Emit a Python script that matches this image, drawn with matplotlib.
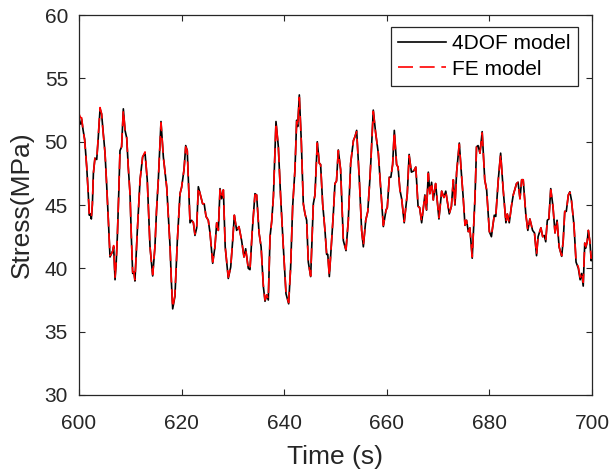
import matplotlib
matplotlib.use("Agg")
import matplotlib.pyplot as plt

# ===============================
# DATA
# ===============================

time = [
    600.0, 600.3, 600.5, 600.8, 601.1, 601.5, 601.8, 602.0, 602.2, 602.4,
    602.6, 602.8, 603.1, 603.45, 603.7, 604.1, 604.4, 604.7, 605.07, 605.4,
    605.72, 606.04, 606.37, 606.6, 606.75, 607.02, 607.25, 607.47, 607.75, 607.99,
    608.3, 608.64, 608.97, 609.3, 609.6, 609.94, 610.2, 610.46, 610.7, 610.9,
    611.37, 611.9, 612.4, 612.87, 613.3, 613.84, 614.36, 614.8, 615.1, 615.46,
    615.98, 616.44, 617.1, 617.75, 618.0, 618.26, 618.7, 619.17, 619.69, 620.0,
    620.47, 620.8, 621.1, 621.64, 621.96, 622.3, 622.6, 622.94, 623.26, 623.6,
    624.1, 624.4, 624.76, 625.2, 625.54, 626.06, 626.5, 626.84, 627.16, 627.49,
    627.8, 628.14, 628.5, 629.1, 629.57, 629.96, 630.28, 630.73, 631.18, 631.7,
    632.16, 632.49, 633.0, 633.33, 633.78, 634.3, 634.63, 635.1, 635.5, 635.93,
    636.26, 636.6, 636.9, 637.24, 637.56, 637.9, 638.4, 638.86, 639.3, 639.83,
    640.35, 640.87, 641.26, 641.65, 642.1, 642.43, 642.63, 642.95, 643.34, 643.73,
    644.06, 644.38, 644.7, 645.16, 645.68, 646.0, 646.45, 646.85, 647.1, 647.5,
    647.95, 648.28, 648.5, 648.8, 649.25, 649.58, 649.9, 650.2, 650.55, 651.0,
    651.53, 652.05, 652.5, 652.96, 653.5, 653.8, 654.13, 654.65, 655.1, 655.43,
    655.9, 656.3, 656.73, 656.9, 657.37, 657.83, 658.35, 658.8, 659.33, 659.85,
    660.1, 660.5, 660.8, 661.14, 661.47, 661.92, 662.2, 662.56, 662.9, 663.4,
    664.0, 664.36, 664.8, 665.27, 665.66, 666.1, 666.4, 666.8, 667.43, 667.76,
    668.1, 668.4, 668.74, 669.07, 669.52, 670.17, 670.7, 671.14, 671.5, 672.18,
    672.6, 672.97, 673.3, 673.62, 674.14, 674.6, 674.9, 675.25, 675.55, 675.9,
    676.2, 676.66, 677.2, 677.5, 677.8, 678.17, 678.6, 679.1, 679.47, 680.0,
    680.4, 680.96, 681.25, 681.74, 682.2, 682.7, 683.23, 683.5, 683.88, 684.3,
    684.66, 685.3, 685.6, 685.97, 686.3, 686.6, 687.1, 687.5, 687.9, 688.43,
    688.8, 689.2, 689.5, 690.05, 690.4, 690.7, 690.99, 691.3, 691.6, 691.97,
    692.4, 692.8, 693.2, 693.6, 694.1, 694.4, 694.7, 695.0, 695.4, 695.7,
    696.0, 696.5, 696.9, 697.35, 697.7, 698.0, 698.3, 698.6, 698.8, 699.07,
    699.3, 699.6, 699.86, 700.0,
]

stress_4dof = [
    51.6, 51.4, 51.8, 50.9, 50.2, 48.0, 45.9, 44.2, 44.3, 43.9,
    45.0, 47.5, 48.7, 48.6, 50.0, 52.6, 52.2, 50.8, 49.1, 46.5,
    43.8, 40.9, 41.2, 41.4, 41.7, 39.1, 40.5, 42.5, 46.0, 49.3,
    49.6, 52.6, 50.9, 50.3, 48.0, 45.9, 42.5, 39.6, 39.7, 39.0,
    43.0, 47.0, 48.8, 49.1, 47.0, 41.7, 39.4, 41.7, 44.5, 47.0,
    51.6, 48.8, 46.4, 41.7, 39.0, 36.8, 37.8, 42.2, 45.9, 46.4,
    47.8, 49.7, 49.3, 43.6, 43.8, 43.6, 42.6, 43.2, 46.45, 45.9,
    45.1, 45.1, 44.1, 43.8, 42.8, 40.4, 41.7, 43.6, 43.0, 46.3,
    45.5, 46.2, 41.7, 39.2, 40.1, 42.2, 44.2, 43.0, 43.3, 42.2,
    40.9, 41.55, 40.0, 39.9, 43.0, 45.9, 45.8, 42.8, 41.7, 38.6,
    37.4, 37.9, 37.5, 42.5, 43.7, 45.7, 51.6, 49.6, 45.7, 41.7,
    38.0, 37.2, 40.1, 44.9, 47.8, 51.7, 51.2, 53.7, 50.0, 45.1,
    44.3, 43.8, 40.5, 39.35, 45.1, 45.8, 50.0, 48.3, 48.2, 45.1,
    43.0, 41.1, 41.1, 39.35, 42.2, 44.3, 46.7, 46.9, 49.35, 47.8,
    42.2, 41.4, 43.8, 48.3, 50.1, 50.4, 50.9, 47.0, 43.0, 41.7,
    43.8, 44.5, 47.2, 48.5, 52.5, 50.7, 49.1, 46.4, 43.3, 44.6,
    44.8, 47.2, 47.2, 48.2, 50.9, 48.2, 48.0, 46.2, 45.5, 43.6,
    45.9, 49.0, 47.6, 47.7, 48.0, 44.9, 44.8, 43.6, 45.8, 44.6,
    47.6, 45.9, 46.8, 45.4, 46.7, 43.9, 46.1, 45.6, 46.1, 44.3,
    44.9, 47.0, 45.0, 47.6, 49.9, 47.2, 45.6, 43.4, 43.8, 42.9,
    43.2, 40.8, 45.6, 49.6, 49.7, 49.1, 50.8, 47.0, 46.2, 42.9,
    42.5, 44.2, 44.1, 47.0, 49.1, 46.2, 43.6, 44.3, 43.6, 44.9,
    45.8, 46.7, 46.8, 45.5, 47.0, 47.0, 44.3, 43.0, 43.9, 43.0,
    42.8, 41.0, 42.5, 43.2, 42.5, 42.6, 42.1, 43.8, 43.9, 46.3,
    44.9, 42.8, 43.8, 41.7, 40.95, 42.2, 44.5, 44.5, 45.8, 46.05,
    45.4, 43.4, 40.5, 40.0, 39.1, 39.6, 38.6, 42.0, 41.6, 42.1,
    43.0, 42.1, 40.6, 40.8,
]

stress_fe = [
    52.2, 51.9, 51.9, 50.9, 50.1, 48.0, 45.9, 44.3, 44.3, 44.0,
    45.1, 47.5, 48.7, 48.6, 50.1, 52.7, 52.2, 50.7, 49.1, 46.5,
    43.8, 41.0, 41.2, 41.4, 41.8, 39.3, 40.5, 42.5, 46.0, 49.4,
    49.6, 52.5, 50.9, 50.3, 48.0, 45.9, 42.5, 39.7, 39.7, 39.1,
    43.0, 47.0, 48.8, 49.2, 47.0, 41.7, 39.5, 41.7, 44.5, 47.0,
    51.5, 48.8, 46.4, 41.7, 39.1, 36.9, 37.9, 42.2, 45.9, 46.4,
    47.8, 49.6, 49.3, 43.6, 43.8, 43.6, 42.7, 43.2, 46.4, 45.9,
    45.1, 45.1, 44.1, 43.8, 42.8, 40.5, 41.7, 43.6, 43.0, 46.2,
    45.5, 46.2, 41.7, 39.3, 40.1, 42.2, 44.2, 43.0, 43.3, 42.2,
    40.9, 41.5, 40.0, 39.9, 43.0, 45.8, 45.8, 42.8, 41.7, 38.7,
    37.5, 37.9, 37.6, 42.5, 43.7, 45.7, 51.5, 49.6, 45.7, 41.7,
    38.1, 37.3, 40.1, 44.9, 47.8, 51.6, 51.2, 53.5, 50.0, 45.1,
    44.3, 43.8, 40.5, 39.4, 45.1, 45.8, 49.9, 48.3, 48.2, 45.1,
    43.0, 41.1, 41.1, 39.4, 42.2, 44.3, 46.7, 46.9, 49.3, 47.8,
    42.2, 41.5, 43.8, 48.3, 50.1, 50.4, 50.8, 47.0, 43.0, 41.8,
    43.8, 44.5, 47.2, 48.5, 52.4, 50.7, 49.1, 46.4, 43.4, 44.6,
    44.8, 47.2, 47.2, 48.2, 50.8, 48.2, 48.0, 46.2, 45.5, 43.7,
    45.9, 48.9, 47.6, 47.7, 48.0, 44.9, 44.8, 43.7, 45.8, 44.6,
    47.5, 45.9, 46.8, 45.4, 46.7, 44.0, 46.1, 45.6, 46.1, 44.3,
    44.9, 47.0, 45.0, 47.6, 49.8, 47.2, 45.6, 43.4, 43.8, 42.9,
    43.2, 40.9, 45.6, 49.6, 49.7, 49.1, 50.7, 47.0, 46.2, 42.9,
    42.6, 44.2, 44.1, 47.0, 49.0, 46.2, 43.6, 44.3, 43.6, 44.9,
    45.8, 46.7, 46.8, 45.5, 47.0, 47.0, 44.3, 43.0, 43.9, 43.0,
    42.8, 41.1, 42.5, 43.2, 42.5, 42.6, 42.2, 43.8, 43.9, 46.2,
    44.9, 42.8, 43.8, 41.7, 41.0, 42.2, 44.5, 44.5, 45.8, 46.0,
    45.4, 43.4, 40.6, 40.1, 39.3, 39.7, 38.9, 42.0, 41.7, 42.1,
    43.0, 42.1, 40.8, 41.0,
]

labels = ["4DOF model", "FE model"]
xticks = [600, 620, 640, 660, 680, 700]
yticks = [30, 35, 40, 45, 50, 55, 60]

# ===============================
# PLOT
# ===============================

plt.rcParams["font.family"] = ["Liberation Sans", "DejaVu Sans"]
grey = "#262626"

fig = plt.figure(figsize=(6.15, 4.76), dpi=100)
ax = fig.add_axes([0.1285, 0.1702, 0.834, 0.798])

ax.plot(time, stress_4dof, color="black", lw=1.2, label=labels[0])
fe_line, = ax.plot(time, stress_fe, color="red", lw=1.2, label=labels[1])
fe_line.set_dashes([9, 4])

ax.set_xlim(600, 700)
ax.set_ylim(30, 60)
ax.set_xticks(xticks)
ax.set_yticks(yticks)

ax.tick_params(direction="in", length=4, width=0.8, colors=grey,
               labelsize=15, top=True, right=True)
ax.tick_params(axis="x", pad=14)
ax.tick_params(axis="y", pad=8)
for sp in ax.spines.values():
    sp.set_color(grey)
    sp.set_linewidth(0.9)

ax.set_xlabel("Time (s)", fontsize=19, color=grey, labelpad=8)
ax.set_ylabel("Stress(MPa)", fontsize=19, color=grey, labelpad=7.5)

leg = ax.legend(loc="upper right", bbox_to_anchor=(0.9727, 0.9684),
                borderaxespad=0, fontsize=15, handlelength=2.3,
                handletextpad=0.3, labelspacing=0.3, borderpad=0.35,
                fancybox=False, framealpha=1)
leg.get_frame().set_edgecolor(grey)
leg.get_frame().set_linewidth(0.9)
for txt in leg.get_texts():
    txt.set_color("black")

fig.savefig("out.png", dpi=100)
